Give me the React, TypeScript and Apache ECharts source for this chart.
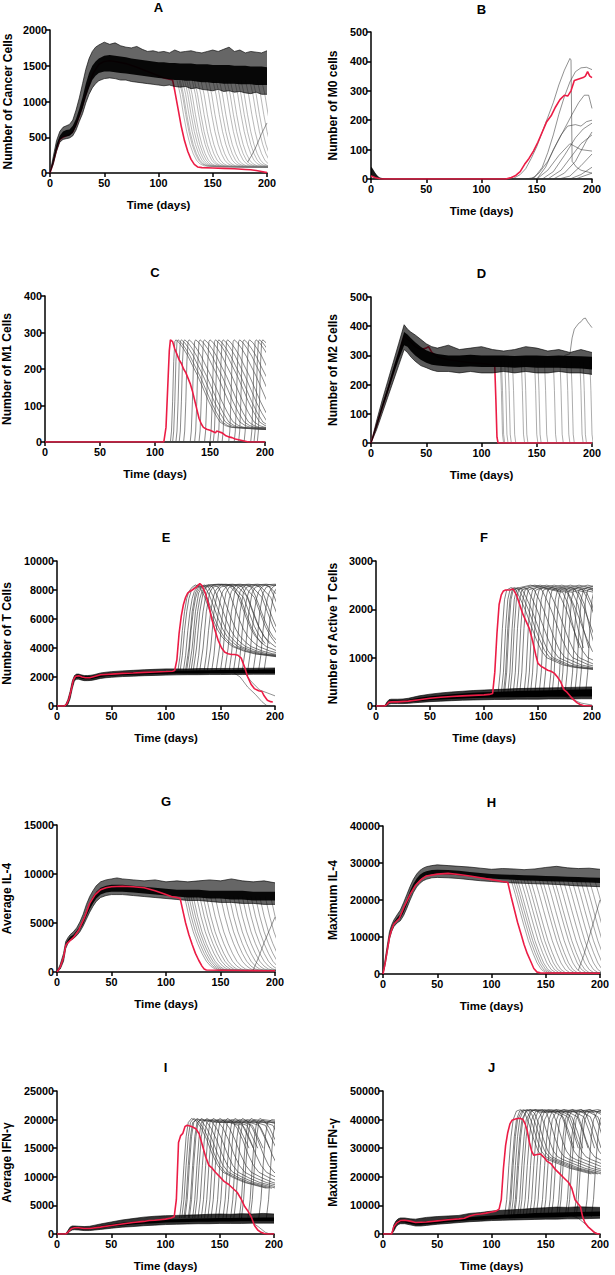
import React, { useEffect, useRef } from "react";
import * as echarts from "echarts";

type Pt = [number, number];
const FONT = "'Liberation Sans', Arial, Helvetica, sans-serif";
const RED = "#ec1c45";
const GRAY = "#6a6a6a";

// ---------------- Panel A : cancer cells ----------------
const A_T = [0,3,6,9,12,15,18,21,24,27,30,33,36,39,42,45,50,55,60,65,70,75,80,85,90,95,100,105,110,115,120,125,130,135,140,145,150,155,160,165,170,175,180,185,190,195,200];
const A_OUT_LO = [0,120,300,430,470,480,490,520,600,720,830,980,1100,1190,1250,1290,1320,1330,1320,1300,1300,1280,1270,1260,1250,1240,1230,1220,1230,1210,1200,1210,1180,1190,1170,1160,1150,1170,1140,1150,1130,1140,1120,1110,1130,1100,1100];
const A_CORE_LO = [0,150,330,460,500,510,520,560,650,780,900,1060,1190,1300,1360,1400,1420,1420,1410,1400,1390,1380,1370,1360,1350,1340,1330,1320,1310,1300,1300,1290,1290,1280,1270,1270,1260,1260,1250,1250,1250,1240,1240,1240,1230,1230,1230];
const A_CORE_HI = [0,200,400,520,580,600,610,660,760,900,1060,1250,1400,1500,1560,1600,1640,1650,1640,1630,1620,1600,1590,1580,1570,1560,1550,1550,1540,1540,1530,1530,1530,1520,1520,1520,1510,1510,1510,1510,1500,1500,1500,1490,1490,1490,1480];
const A_OUT_HI = [0,230,450,580,640,660,680,740,880,1050,1250,1450,1600,1700,1760,1790,1830,1800,1820,1780,1760,1750,1770,1730,1700,1710,1690,1700,1680,1720,1690,1700,1710,1690,1680,1700,1720,1700,1730,1760,1700,1720,1680,1700,1690,1680,1710];
const A_RED: Pt[] = [[0,0],[3,150],[6,330],[9,470],[12,500],[15,520],[18,540],[21,580],[24,680],[27,800],[30,950],[35,1200],[40,1400],[45,1520],[50,1560],[55,1570],[60,1560],[70,1530],[80,1480],[90,1420],[100,1360],[105,1330],[110,1310],[113,1300],[115,1150],[118,900],[121,650],[124,450],[127,300],[130,190],[133,120],[136,85],[140,75],[150,70],[160,65],[170,60],[180,50],[185,45],[190,35],[195,20],[200,5]];
const A_DROP: Pt[] = [[0,1300],[3,1100],[6,820],[9,580],[12,400],[15,270],[18,180],[21,130],[25,100],[35,90],[60,85],[120,80]];
const A_ONSETS = [117,119,120,122,124,126,128,131,133,136,139,143,146,150,153,156,160,163,166,170,173,176,180,184,187,191,195];
const A_EXTRA: Pt[][] = [[[182,150],[186,250],[190,370],[195,550],[200,700]]];

// ---------------- Panel B : M0 cells ----------------
const B_T = [0,1,2,3,4,5,6,7,8,10,12,15,20];
const B_LO = [12,10,8,6,4,3,2,1,0,0,0,0,0];
const B_HI = [42,38,32,26,20,15,11,8,5,3,2,1,0];
const B_RED: Pt[] = [[0,10],[4,4],[8,1],[12,0],[122,0],[127,5],[131,12],[135,25],[139,50],[143,70],[147,95],[151,125],[155,160],[159,195],[163,215],[167,245],[171,270],[175,285],[178,282],[181,300],[184,335],[188,340],[192,345],[194,350],[196,365],[198,350],[200,345]];
const B_EXTRA: Pt[][] = [
  [[0,0],[200,0]],
  [[128,0],[135,15],[140,35],[145,70],[150,110],[155,160],[160,210],[165,260],[170,320],[175,370],[180,410],[181,405],[182,60],[186,40],[190,30],[195,25],[200,20]],
  [[140,0],[148,5],[155,40],[160,90],[165,150],[170,220],[175,280],[180,330],[185,365],[190,378],[195,380],[200,372]],
  [[145,0],[152,20],[160,60],[168,120],[175,170],[182,220],[188,260],[193,285],[197,285],[200,240]],
  [[150,0],[158,40],[165,100],[172,150],[178,180],[185,185],[190,180],[195,195],[200,200]],
  [[155,0],[165,25],[175,80],[185,140],[192,170],[200,190]],
  [[160,0],[172,30],[182,80],[190,120],[200,150]],
  [[150,0],[160,30],[170,80],[180,120],[185,110],[190,100],[200,95]],
  [[170,0],[180,10],[190,45],[200,85]],
  [[180,0],[190,15],[200,40]],
  [[185,0],[200,20]],
  [[165,0],[175,20],[185,60],[195,130],[200,160]],
];

// ---------------- Panel C : M1 cells ----------------
const C_RED: Pt[] = [[0,0],[108,0],[110,40],[112,180],[113,250],[114,280],[116,275],[118,255],[120,240],[122,225],[124,215],[126,200],[128,190],[130,175],[132,160],[134,140],[136,115],[138,90],[140,65],[142,50],[144,40],[147,35],[150,32],[153,28],[155,25],[156,30],[158,28],[161,25],[164,18],[167,14],[170,12],[173,8],[176,6],[179,4],[182,2],[185,0],[200,0]];
const C_DROP: Pt[] = [[0,0],[1,30],[2,110],[3,220],[4,275],[5,280],[8,272],[12,255],[16,235],[20,210],[25,180],[30,145],[35,110],[40,80],[45,55],[50,45],[55,40],[65,38],[80,35],[120,30]];
const C_ONSETS = [114,116,119,122,126,132,136,140,145,150,153,157,161,167,172,176,181,187,190,193];

// ---------------- Panel D : M2 cells ----------------
const D_T = [0,5,10,15,20,25,30,33,36,40,45,50,55,60,70,80,90,100,110,120,130,140,150,160,170,180,190,200];
const D_OUT_LO = [0,45,100,155,210,265,320,310,295,280,265,258,250,245,245,240,245,240,240,245,240,245,240,240,245,240,240,235];
const D_CORE_LO = [0,55,115,170,230,285,335,330,315,300,285,275,268,265,262,260,262,260,260,260,258,260,258,258,258,256,255,252];
const D_CORE_HI = [0,65,130,190,255,315,380,372,360,345,330,318,310,305,300,300,302,300,300,300,298,300,300,298,300,298,297,295];
const D_OUT_HI = [0,75,145,210,275,340,405,390,380,370,355,340,330,325,335,320,325,330,320,315,320,330,325,315,320,310,320,310];
const D_RED: Pt[] = [[0,0],[10,120],[20,240],[30,365],[35,350],[40,330],[45,320],[50,325],[52,330],[55,310],[60,295],[70,285],[80,280],[90,275],[100,272],[110,268],[112,262],[113,150],[114,20],[115,0],[200,0]];
const D_DROP: Pt[] = [[0,280],[1,180],[2,30],[3,0],[200,0]];
const D_ONSETS = [117,118,121,124,128,136,139,148,151,157,165,171,177,181,189,192,198];
const D_EXTRA: Pt[][] = [[[175,300],[180,305],[182,360],[184,390],[186,400],[188,410],[190,415],[192,425],[194,428],[196,415],[198,405],[200,395]]];

// ---------------- Panel E : T cells ----------------
const E_T = [0,6,8,10,12,14,16,18,20,22,25,28,31,34,37,40,45,50,60,70,80,90,100,110,120,130,140,150,160,170,180,190,200];
const E_OUT_LO = [0,0,0,100,500,1200,1750,1850,1850,1800,1750,1750,1760,1800,1850,1900,1950,1980,2030,2060,2090,2110,2130,2150,2160,2160,2170,2170,2180,2180,2190,2190,2190];
const E_CORE_LO = [0,0,0,150,600,1300,1850,1950,1950,1900,1850,1850,1850,1900,1950,2000,2050,2080,2120,2150,2180,2200,2220,2240,2250,2250,2260,2260,2270,2270,2280,2280,2280];
const E_CORE_HI = [0,0,50,350,900,1600,2050,2150,2150,2100,2050,2050,2060,2100,2150,2200,2250,2280,2320,2350,2380,2400,2420,2440,2450,2460,2470,2480,2490,2500,2500,2510,2520];
const E_OUT_HI = [0,0,100,450,1000,1700,2100,2200,2200,2150,2100,2100,2120,2160,2220,2280,2330,2370,2420,2460,2500,2530,2560,2560,2560,2580,2580,2590,2590,2600,2600,2610,2620];
const E_RED: Pt[] = [[0,0],[7,0],[9,150],[11,500],[13,1100],[15,1800],[17,2050],[20,2080],[23,2000],[26,1950],[30,1950],[35,2050],[40,2150],[50,2200],[60,2250],[70,2280],[80,2320],[90,2350],[100,2380],[106,2400],[108,2450],[110,3200],[112,5000],[114,6200],[116,7000],[118,7500],[120,7800],[124,8000],[128,8200],[131,8450],[133,8300],[136,7800],[139,7000],[142,6000],[145,5200],[148,4500],[151,4000],[154,3700],[157,3600],[160,3550],[163,3550],[166,3500],[169,3300],[172,2700],[175,2000],[178,1500],[181,1200],[185,1050],[188,1000],[190,700],[193,400],[196,300],[198,280]];
const E_DROP1: Pt[] = [[0,2450],[2,3500],[4,5200],[6,6500],[8,7400],[10,7900],[13,8200],[16,8350],[20,8200],[24,7600],[28,6800],[32,6000],[36,5300],[40,4800],[45,4400],[50,4100],[60,3800],[70,3600],[90,3400]];
const E_ON1 = [111,113,116,119,123,128,135,142,150,158,166,175,185];
const E_DROP2: Pt[] = [[0,2450],[3,4000],[6,6500],[9,7800],[12,8200],[20,8350],[30,8400],[40,8300],[50,7500],[55,6500],[60,5500],[65,4800],[70,4300]];
const E_ON2 = [118,121,125,131,138,146,154,162,170,180,190];
const E_EXTRA: Pt[][] = [
  [[160,2400],[168,2000],[175,1300],[182,800],[188,300],[192,50],[196,0]],
  [[170,2500],[178,1700],[186,1100],[193,900],[200,700]],
];

// ---------------- Panel F : active T cells ----------------
const F_T = [0,8,10,12,14,20,25,30,35,40,50,60,70,80,90,100,110,120,130,140,150,160,170,180,190,200];
const F_OUT_LO = [0,0,10,40,50,50,50,55,65,75,90,100,110,120,125,130,135,135,140,140,140,145,145,145,150,150];
const F_CORE_LO = [0,0,20,60,70,70,70,80,90,100,120,135,145,155,165,170,175,180,180,185,185,190,190,190,195,195];
const F_CORE_HI = [0,0,60,110,120,115,115,130,150,170,200,225,245,260,275,285,290,300,310,315,320,325,330,335,340,345];
const F_OUT_HI = [0,0,80,130,140,140,145,160,185,210,245,270,290,305,320,330,340,350,360,365,370,375,380,385,390,395];
const F_RED: Pt[] = [[0,0],[8,0],[10,30],[12,80],[15,85],[20,85],[30,100],[40,130],[50,160],[60,180],[70,195],[80,210],[90,220],[100,230],[105,240],[108,260],[110,700],[112,1500],[114,2100],[116,2300],[118,2380],[120,2400],[124,2400],[127,2420],[130,2300],[133,2100],[136,1900],[139,1750],[142,1600],[145,1350],[148,1050],[150,880],[153,820],[156,780],[159,740],[162,720],[165,680],[168,600],[171,500],[174,340],[177,280],[180,200],[183,130],[186,70],[189,30],[192,10],[200,0]];
const F_DROP1: Pt[] = [[0,250],[2,700],[4,1600],[6,2200],[8,2400],[12,2450],[16,2420],[20,2250],[25,2000],[30,1700],[35,1400],[40,1150],[45,1000],[50,950],[60,850],[70,800],[90,750]];
const F_ON1 = [113,116,119,124,130,137,143,151,160,168,175,184];
const F_DROP2: Pt[] = [[0,250],[2,700],[4,1600],[6,2200],[8,2400],[15,2450],[25,2500],[35,2450],[45,2400],[55,2350],[60,2100],[65,1600],[70,1200]];
const F_ON2 = [118,122,127,133,140,147,155,163,171,180,188,194];
const F_EXTRA: Pt[][] = [[[170,250],[180,150],[190,60],[200,20]]];

// ---------------- Panel G : average IL-4 ----------------
const G_T = [0,3,6,8,10,12,15,18,21,24,27,30,33,36,40,45,50,55,60,70,80,90,100,110,120,130,140,150,160,170,180,190,200];
const G_OUT_LO = [0,300,1100,2400,2900,3200,3400,3700,4100,4700,5400,6100,6700,7200,7600,7800,7900,7900,7900,7800,7700,7600,7500,7400,7300,7300,7200,7100,7100,7000,7000,6900,6900];
const G_CORE_LO = [0,400,1300,2600,3000,3300,3500,3900,4300,4900,5700,6400,7000,7500,7900,8100,8200,8200,8200,8100,8000,7900,7800,7700,7600,7600,7500,7500,7400,7400,7300,7300,7300];
const G_CORE_HI = [0,600,1600,2900,3300,3600,3800,4200,4700,5400,6300,7100,7700,8200,8600,8800,8900,8900,8900,8800,8700,8600,8500,8400,8400,8400,8300,8300,8300,8300,8200,8200,8200];
const G_OUT_HI = [0,800,1900,3100,3500,3800,4100,4500,5100,5900,6900,7700,8300,8800,9200,9400,9500,9600,9500,9400,9300,9400,9200,9300,9200,9300,9400,9300,9500,9300,9200,9300,9100];
const G_RED: Pt[] = [[0,0],[3,500],[6,1500],[8,2700],[10,3000],[15,3500],[20,4300],[25,5500],[30,7000],[35,7900],[40,8400],[45,8600],[50,8700],[60,8750],[70,8700],[80,8600],[90,8300],[100,7900],[105,7700],[110,7600],[113,7500],[115,6500],[118,5000],[121,3800],[124,2800],[127,1900],[130,1200],[133,600],[135,300],[137,200],[150,180],[170,150],[190,130],[200,120]];
const G_DROP: Pt[] = [[0,7700],[4,5700],[8,4100],[12,2900],[16,1900],[20,1100],[24,600],[28,300],[32,200],[40,160],[80,130],[150,120]];
const G_ONSETS = [117,119,121,123,125,128,131,134,137,141,145,150,154,158,162,166,170,174,178,182,186,191,196];
const G_EXTRA: Pt[][] = [[[180,200],[185,1500],[190,3000],[195,4300],[200,5600]]];

// ---------------- Panel H : maximum IL-4 ----------------
const H_T = [0,2,4,6,8,10,13,16,19,22,25,28,31,34,37,40,45,50,60,70,80,90,100,110,120,130,140,150,160,170,180,190,200];
const H_OUT_LO = [0,2500,6000,9500,11500,12800,13800,14400,15800,17800,20000,22000,23500,24500,25200,25600,26000,26100,26000,25800,25500,25200,25000,24800,24600,24500,24400,24300,24200,24000,23800,23700,23600];
const H_CORE_LO = [0,3000,6500,10000,12000,13300,14300,15000,16600,18800,21000,23000,24500,25500,26200,26600,26900,27000,26900,26700,26400,26100,25800,25600,25500,25300,25200,25100,25000,24900,24800,24700,24600];
const H_CORE_HI = [0,3500,7200,10800,12700,14000,15200,16200,18000,20200,22500,24400,25800,26800,27400,27800,28100,28200,28100,27900,27600,27300,27000,26900,26800,26700,26600,26500,26400,26300,26200,26100,26000];
const H_OUT_HI = [0,4000,7800,11500,13300,14600,16000,17300,19300,21500,23700,25600,27000,28000,28600,29000,29300,29500,29300,29100,28900,28600,28300,28500,28400,28200,28400,28800,29100,28700,28500,28600,28300];
const H_RED: Pt[] = [[0,0],[2,3000],[4,6500],[6,10000],[8,12000],[10,13500],[15,15000],[20,18500],[25,21500],[30,24000],[35,25500],[40,26500],[50,27000],[60,27200],[70,26900],[80,26500],[90,26000],[100,25500],[110,25000],[115,24800],[118,21000],[121,17500],[124,14000],[127,11000],[130,8000],[133,5500],[136,3500],[139,1500],[142,500],[145,300],[200,200]];
const H_DROP: Pt[] = [[0,25500],[4,21500],[8,17200],[12,13000],[16,9000],[20,5800],[24,3000],[28,1200],[32,400],[40,200],[120,150]];
const H_ONSETS = [118,120,122,124,127,130,133,136,140,144,147,151,155,158,162,166,170,174,178,182,186,190,195];
const H_EXTRA: Pt[][] = [[[180,1000],[185,5000],[190,10000],[195,15000],[200,20000]]];

// ---------------- Panel I : average IFN-γ ----------------
const I_T = [0,8,10,12,14,16,20,25,30,35,40,50,60,70,80,90,100,110,120,130,140,150,160,170,180,190,200];
const I_OUT_LO = [0,0,100,500,700,750,700,600,600,700,800,1000,1200,1300,1450,1550,1650,1700,1750,1800,1800,1850,1850,1850,1900,1900,1900];
const I_CORE_LO = [0,0,200,700,900,950,900,800,800,900,1000,1300,1500,1650,1800,1900,2000,2050,2100,2150,2150,2200,2200,2250,2250,2250,2250];
const I_CORE_HI = [0,0,400,1000,1200,1250,1200,1100,1100,1250,1400,1700,1950,2150,2300,2450,2550,2600,2650,2700,2750,2800,2800,2850,2850,2900,2900];
const I_OUT_HI = [0,0,600,1200,1400,1400,1350,1300,1350,1550,1750,2100,2450,2700,2950,3100,3200,3250,3300,3350,3450,3500,3450,3550,3500,3600,3500];
const I_RED: Pt[] = [[0,0],[8,0],[10,300],[13,900],[16,1100],[20,1100],[25,950],[30,950],[40,1200],[50,1500],[60,1750],[70,2000],[80,2200],[85,2350],[90,2400],[95,2500],[100,2600],[105,2800],[108,3000],[110,6000],[112,16000],[114,17200],[116,17600],[118,18800],[120,19000],[124,18800],[128,18400],[131,17500],[134,15500],[137,13500],[140,12000],[143,11500],[146,10800],[150,10000],[154,9200],[158,8700],[162,8000],[166,7300],[170,6000],[173,4800],[176,4000],[179,3000],[182,1500],[185,700],[188,300],[191,100],[194,0],[200,0]];
const I_DROP1: Pt[] = [[0,2800],[2,6000],[4,12000],[6,17000],[8,19500],[11,20200],[15,19800],[20,18500],[25,16500],[30,14000],[35,12000],[40,10800],[50,9800],[60,9000],[80,8000]];
const I_ON1 = [113,115,118,122,127,133,139,146,153,160,168,176];
const I_DROP2: Pt[] = [[0,2800],[2,6000],[4,12000],[6,17000],[8,19500],[12,20000],[20,19800],[30,19500],[40,19600],[50,19000],[55,17000],[60,15000]];
const I_ON2 = [117,121,125,130,136,142,149,156,163,170,178,186,193];
const I_EXTRA: Pt[][] = [[[170,2800],[178,2300],[186,1200],[192,300],[196,0]]];

// ---------------- Panel J : maximum IFN-γ ----------------
const J_T = [0,8,10,12,14,16,20,25,30,35,40,50,60,70,80,90,100,110,120,130,140,150,160,170,180,190,200];
const J_OUT_LO = [0,0,1000,2500,3300,3600,3600,3200,2800,2800,3000,3400,3700,4000,4300,4500,4700,4800,4900,5000,5100,5200,5200,5300,5300,5400,5500];
const J_CORE_LO = [0,0,1500,3000,3800,4100,4000,3600,3200,3200,3400,3800,4200,4500,4800,5000,5200,5400,5500,5600,5700,5800,5900,6000,6100,6200,6300];
const J_CORE_HI = [0,0,2500,4000,4700,5000,4900,4500,4200,4200,4400,4900,5300,5600,5900,6200,6500,6700,6900,7100,7300,7400,7500,7600,7700,7800,7900];
const J_OUT_HI = [0,0,3200,4600,5300,5600,5600,5300,5200,5500,5800,6100,6300,6500,7200,7500,8000,8300,8500,8700,9000,9200,9400,9300,9500,9400,9300];
const J_RED: Pt[] = [[0,0],[8,0],[10,2500],[13,4000],[16,4700],[20,4800],[25,4500],[30,4000],[40,4200],[50,4600],[60,5000],[70,5300],[75,5500],[80,6300],[85,6800],[90,7000],[95,7300],[100,7700],[104,8000],[107,8700],[109,12000],[111,23000],[113,31000],[115,35500],[117,38500],[119,39800],[122,40200],[126,40500],[129,40000],[131,38500],[133,36000],[135,32000],[137,29000],[139,27500],[142,27800],[145,28000],[148,27000],[151,25500],[155,24500],[159,22500],[163,21000],[167,19500],[171,18000],[174,16000],[177,12000],[180,10500],[182,9500],[184,6000],[186,4000],[189,2500],[192,1500],[195,500],[198,0],[200,0]];
const J_DROP1: Pt[] = [[0,6000],[2,12000],[4,24000],[6,34000],[8,40000],[11,43000],[15,43500],[19,42000],[23,38000],[27,33000],[31,29000],[35,27000],[40,26000],[50,24500],[60,23000],[80,21000]];
const J_ON1 = [112,115,118,121,126,132,138,145,152,160,168,176];
const J_DROP2: Pt[] = [[0,6000],[2,12000],[4,24000],[6,34000],[8,40000],[12,43000],[20,43500],[30,42500],[40,43000],[50,41000],[55,36000],[60,30000]];
const J_ON2 = [116,120,124,129,135,141,148,155,162,170,178,186,192];
const J_EXTRA: Pt[][] = [[[170,7000],[180,5500],[188,3000],[194,800],[198,0]]];

// ---------------- panel layout ----------------
type Band = { t: number[]; lo: number[]; hi: number[]; olo?: number[]; ohi?: number[]; coreOp: number; outOp: number };
type Panel = {
  title: string; yName: string; yMax: number; yInt: number;
  grid: { left: number; top: number; width: number; height: number };
  yGap: number; band?: Band; red: Pt[]; redTop: boolean;
  drops: { p: Pt[]; on: number[] }[]; extras: Pt[][]; dropColor?: string; dropWidth?: number;
};

const PANELS: Panel[] = [
  { title: "A", yName: "Number of Cancer Cells", yMax: 2000, yInt: 500, grid: { left: 50, top: 30, width: 217, height: 143 }, yGap: 36,
    band: { t: A_T, lo: A_CORE_LO, hi: A_CORE_HI, olo: A_OUT_LO, ohi: A_OUT_HI, coreOp: 0.93, outOp: 0.6 }, red: A_RED, redTop: false,
    drops: [{ p: A_DROP, on: A_ONSETS }], extras: A_EXTRA, dropColor: "#7a7a7a" },
  { title: "B", yName: "Number of M0 cells", yMax: 500, yInt: 100, grid: { left: 371, top: 32, width: 221, height: 147 }, yGap: 32,
    band: { t: B_T, lo: B_LO, hi: B_HI, coreOp: 0.9, outOp: 0 }, red: B_RED, redTop: true,
    drops: [], extras: B_EXTRA },
  { title: "C", yName: "Number of M1 Cells", yMax: 400, yInt: 100, grid: { left: 45, top: 296, width: 220, height: 146 }, yGap: 32,
    red: C_RED, redTop: true, drops: [{ p: C_DROP, on: C_ONSETS }], extras: [], dropColor: "#444", dropWidth: 0.7 },
  { title: "D", yName: "Number of M2 Cells", yMax: 500, yInt: 100, grid: { left: 371, top: 297, width: 221, height: 146 }, yGap: 32,
    band: { t: D_T, lo: D_CORE_LO, hi: D_CORE_HI, olo: D_OUT_LO, ohi: D_OUT_HI, coreOp: 0.95, outOp: 0.65 }, red: D_RED, redTop: false,
    drops: [{ p: D_DROP, on: D_ONSETS }], extras: D_EXTRA, dropColor: "#666" },
  { title: "E", yName: "Number of T Cells", yMax: 10000, yInt: 2000, grid: { left: 57, top: 561, width: 218, height: 145 }, yGap: 44,
    band: { t: E_T, lo: E_CORE_LO, hi: E_CORE_HI, olo: E_OUT_LO, ohi: E_OUT_HI, coreOp: 1, outOp: 0.8 }, red: E_RED, redTop: true,
    drops: [{ p: E_DROP1, on: E_ON1 }, { p: E_DROP2, on: E_ON2 }], extras: E_EXTRA, dropColor: "#333", dropWidth: 0.7 },
  { title: "F", yName: "Number of Active T Cells", yMax: 3000, yInt: 1000, grid: { left: 376, top: 561, width: 216, height: 145 }, yGap: 37,
    band: { t: F_T, lo: F_CORE_LO, hi: F_CORE_HI, olo: F_OUT_LO, ohi: F_OUT_HI, coreOp: 1, outOp: 0.8 }, red: F_RED, redTop: true,
    drops: [{ p: F_DROP1, on: F_ON1 }, { p: F_DROP2, on: F_ON2 }], extras: F_EXTRA, dropColor: "#333", dropWidth: 0.7 },
  { title: "G", yName: "Average IL-4", yMax: 15000, yInt: 5000, grid: { left: 57, top: 825, width: 218, height: 147 }, yGap: 44,
    band: { t: G_T, lo: G_CORE_LO, hi: G_CORE_HI, olo: G_OUT_LO, ohi: G_OUT_HI, coreOp: 0.93, outOp: 0.6 }, red: G_RED, redTop: true,
    drops: [{ p: G_DROP, on: G_ONSETS }], extras: G_EXTRA, dropColor: "#555" },
  { title: "H", yName: "Maximum IL-4", yMax: 40000, yInt: 10000, grid: { left: 383, top: 826, width: 217, height: 148 }, yGap: 44,
    band: { t: H_T, lo: H_CORE_LO, hi: H_CORE_HI, olo: H_OUT_LO, ohi: H_OUT_HI, coreOp: 0.93, outOp: 0.6 }, red: H_RED, redTop: true,
    drops: [{ p: H_DROP, on: H_ONSETS }], extras: H_EXTRA, dropColor: "#555" },
  { title: "I", yName: "Average IFN-γ", yMax: 25000, yInt: 5000, grid: { left: 57, top: 1091, width: 217, height: 143 }, yGap: 44,
    band: { t: I_T, lo: I_CORE_LO, hi: I_CORE_HI, olo: I_OUT_LO, ohi: I_OUT_HI, coreOp: 1, outOp: 0.8 }, red: I_RED, redTop: true,
    drops: [{ p: I_DROP1, on: I_ON1 }, { p: I_DROP2, on: I_ON2 }], extras: I_EXTRA, dropColor: "#333", dropWidth: 0.7 },
  { title: "J", yName: "Maximum IFN-γ", yMax: 50000, yInt: 10000, grid: { left: 383, top: 1091, width: 217, height: 143 }, yGap: 44,
    band: { t: J_T, lo: J_CORE_LO, hi: J_CORE_HI, olo: J_OUT_LO, ohi: J_OUT_HI, coreOp: 1, outOp: 0.8 }, red: J_RED, redTop: true,
    drops: [{ p: J_DROP1, on: J_ON1 }, { p: J_DROP2, on: J_ON2 }], extras: J_EXTRA, dropColor: "#333", dropWidth: 0.7 },
];

function bandSeries(idx: number, t: number[], lo: number[], hi: number[], opacity: number, z: number) {
  return {
    type: "custom", xAxisIndex: idx, yAxisIndex: idx, z, silent: true, clip: true,
    data: [[t[0], lo[0]]],
    renderItem: (_params: any, api: any) => {
      const top = t.map((x, k) => api.coord([x, hi[k]]));
      const bot = t.map((x, k) => api.coord([x, lo[k]])).reverse();
      return { type: "polygon", shape: { points: top.concat(bot) }, style: { fill: `rgba(0,0,0,${opacity})`, stroke: "none" } };
    },
  };
}

function buildOption() {
  const grid: any[] = [], xAxis: any[] = [], yAxis: any[] = [], series: any[] = [], graphic: any[] = [];
  const txt = { color: "#000", fontWeight: "bold", fontFamily: FONT };
  PANELS.forEach((p, i) => {
    grid.push({ ...p.grid, containLabel: false, outerBoundsMode: "none" });
    const axisLine = { show: true, onZero: false, lineStyle: { color: "#000", width: 1.5 } };
    const axisTick = { show: true, length: 4, lineStyle: { color: "#000", width: 1.5 } };
    xAxis.push({
      gridIndex: i, type: "value", min: 0, max: 200, interval: 50,
      axisLine, axisTick, splitLine: { show: false },
      axisLabel: { ...txt, fontSize: 10.8, margin: 4, formatter: (v: number) => String(v) },
      name: "Time (days)", nameLocation: "middle", nameGap: 26, nameMoveOverlap: false,
      nameTextStyle: { ...txt, fontSize: 11.5 },
    });
    yAxis.push({
      gridIndex: i, type: "value", min: 0, max: p.yMax, interval: p.yInt,
      axisLine, axisTick, splitLine: { show: false },
      axisLabel: { ...txt, fontSize: 10.8, margin: 3, formatter: (v: number) => String(v) },
      name: p.yName, nameLocation: "middle", nameRotate: 90, nameGap: p.yGap, nameMoveOverlap: false,
      nameTextStyle: { ...txt, fontSize: 12 },
    });
    const base = { type: "line", xAxisIndex: i, yAxisIndex: i, symbol: "none", silent: true, animation: false, clip: true };
    const dropColor = p.dropColor || GRAY;
    const dropWidth = p.dropWidth || 0.6;
    p.drops.forEach(({ p: prof, on }) => on.forEach((o) => {
      series.push({ ...base, z: 2, data: prof.map(([d, v]) => [o + d, v]), lineStyle: { color: dropColor, width: dropWidth, opacity: 0.9 } });
    }));
    p.extras.forEach((pts) => series.push({ ...base, z: 2, data: pts, lineStyle: { color: "#333", width: 0.6, opacity: 0.9 } }));
    const redS = { ...base, data: p.red, lineStyle: { color: RED, width: 1.6 } };
    if (!p.redTop) series.push({ ...redS, z: 3 });
    if (p.band) {
      const b = p.band;
      if (b.olo && b.ohi) {
        series.push(bandSeries(i, b.t, b.olo, b.ohi, b.outOp, 4));
      }
      series.push(bandSeries(i, b.t, b.lo, b.hi, b.coreOp, 4));
      const edges = [b.olo, b.ohi].filter(Boolean) as number[][];
      edges.forEach((arr) => series.push({ ...base, z: 4, data: b.t.map((x, k) => [x, arr[k]]), lineStyle: { color: "#000", width: 0.7, opacity: 0.9 } }));
    }
    if (p.redTop) series.push({ ...redS, z: 5 });
    graphic.push({
      type: "text", x: p.grid.left + p.grid.width / 2, y: p.grid.top - (i < 2 ? 23 : 24),
      style: { text: p.title, fill: "#000", font: `bold 13px ${FONT}`, textAlign: "center", textVerticalAlign: "middle", align: "center", verticalAlign: "middle" },
    });
  });
  return { animation: false, backgroundColor: "#fff", grid, xAxis, yAxis, series, graphic };
}

export default function App() {
  const ref = useRef<HTMLDivElement>(null);
  useEffect(() => {
    const chart = echarts.init(ref.current!, null, { renderer: "svg" });
    chart.setOption(buildOption() as any);
    return () => chart.dispose();
  }, []);
  return <div ref={ref} style={{ position: "absolute", left: 0, top: 0, width: 615, height: 1275, background: "#fff" }} />;
}
